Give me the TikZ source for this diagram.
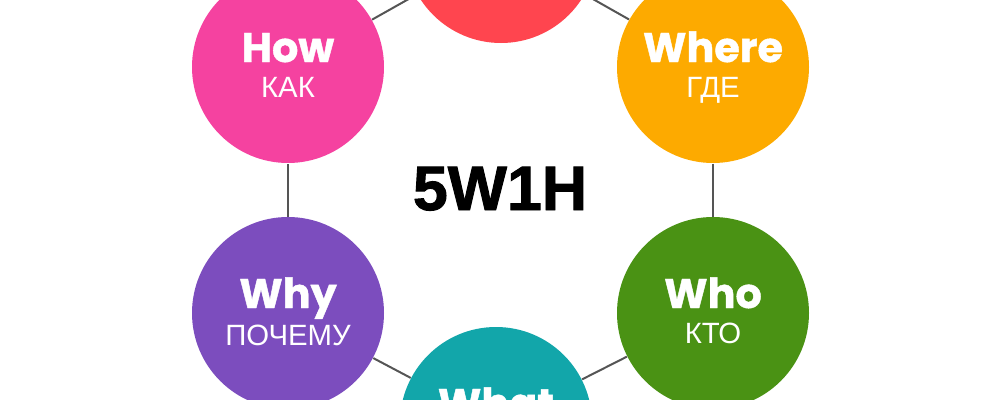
\documentclass[tikz,border=0pt]{standalone}
\usepackage{fontspec}
\setmainfont{Liberation Sans}
\newfontfamily\enfont{Poppins}[BoldFeatures={FakeBold=1}]
\newfontfamily\rufont{Liberation Sans}
\newfontfamily\titlefont{Liberation Sans}[BoldFeatures={FakeBold=1.5}]

\definecolor{topred}{RGB}{255,69,79}
\definecolor{howpink}{RGB}{245,66,160}
\definecolor{whereorange}{RGB}{253,170,0}
\definecolor{whypurple}{RGB}{124,77,190}
\definecolor{whogreen}{RGB}{74,146,20}
\definecolor{whatteal}{RGB}{18,166,170}
\definecolor{linegray}{RGB}{85,85,85}

\tikzset{every picture/.style={line width=0.75pt}}
\tikzset{
  bubble/.style={circle, draw=none, minimum size=144pt, inner sep=0pt},
  enword/.style={anchor=base, text=white, font=\enfont\bfseries\fontsize{31}{36}\selectfont},
  ruword/.style={anchor=base, text=white, font=\rufont\fontsize{22}{26}\selectfont},
  spoke/.style={draw=linegray, line width=1.5pt}
}

\begin{document}
\begin{tikzpicture}[x=0.75pt,y=0.75pt,yscale=-1,xscale=1]
\useasboundingbox (0,0) rectangle (1000,400);
\clip (0,0) rectangle (1000,400);

%Shape: Circle
\node [bubble, fill=topred] (when) at (501,-53) {};
\node [bubble, fill=howpink] (how) at (288,67) {};
\node [bubble, fill=whereorange] (where) at (713,67) {};
\node [bubble, fill=whypurple] (why) at (288,313) {};
\node [bubble, fill=whogreen] (who) at (713,313) {};
\node [bubble, fill=whatteal] (what) at (496,423) {};

%Straight Lines
\draw [spoke] (how) -- (when);
\draw [spoke] (when) -- (where);
\draw [spoke] (where) -- (who);
\draw [spoke] (who) -- (what);
\draw [spoke] (what) -- (why);
\draw [spoke] (why) -- (how);

\node [enword] (how-en) at ([yshift=-3.75pt]how.center) {How};
\node [ruword] (how-ru) at ([yshift=23pt]how.center) {КАК};
\node [enword] (where-en) at ([yshift=-3.75pt]where.center) {Where};
\node [ruword] (where-ru) at ([yshift=23pt]where.center) {ГДЕ};
\node [enword] (why-en) at ([yshift=-3.75pt]why.center) {Why};
\node [ruword] (why-ru) at ([yshift=24pt]why.center) {ПОЧЕМУ};
\node [enword] (who-en) at ([yshift=-3.75pt]who.center) {Who};
\node [ruword] (who-ru) at ([yshift=23pt]who.center) {КТО};
\node [enword] (what-en) at ([yshift=-3.75pt]what.center) {What};

\node [anchor=base, font=\titlefont\bfseries\fontsize{47}{52}\selectfont] (title) at (500,210) {5W1H};

\end{tikzpicture}
\end{document}
